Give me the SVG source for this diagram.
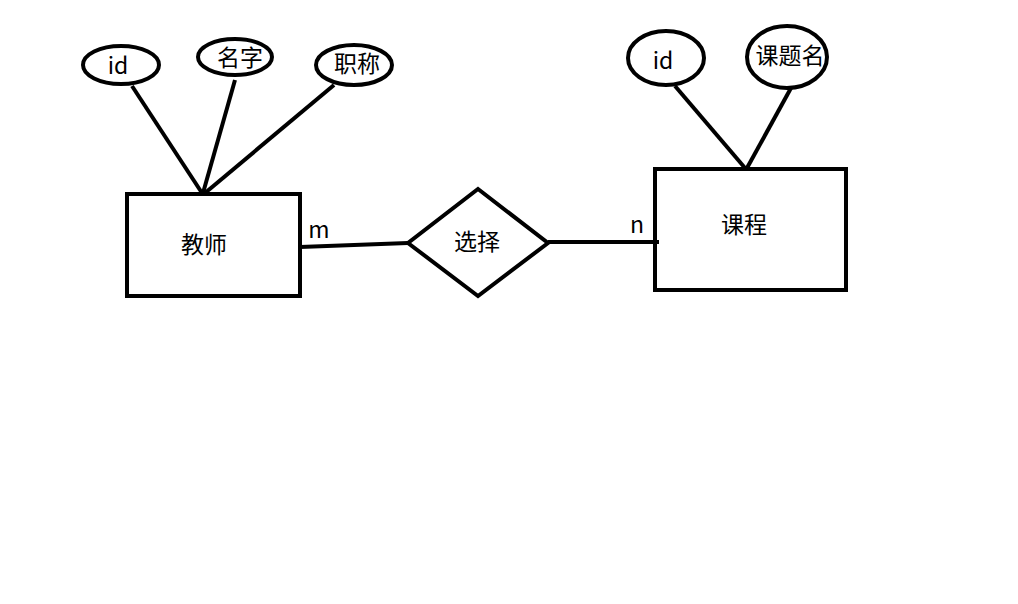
<svg xmlns="http://www.w3.org/2000/svg" width="1018" height="604" viewBox="0 0 1018 604">
<style>
.s{fill:none;stroke:#000;stroke-width:4}
.e{fill:#fff;stroke:#000;stroke-width:4}
.t{font-family:"Microsoft YaHei","Noto Sans CJK SC","Noto Sans",sans-serif;font-size:23px;fill:#000;text-anchor:middle;dominant-baseline:central}
</style>
<rect width="1018" height="604" fill="#fff"/>
<g id="connectors">
<line class="s" x1="132" y1="86" x2="202" y2="193"/>
<line class="s" x1="235" y1="80" x2="203" y2="193"/>
<line class="s" x1="334" y1="85" x2="205" y2="193"/>
<line class="s" x1="300" y1="247" x2="408" y2="243"/>
<line class="s" x1="548" y1="242" x2="659" y2="242"/>
<line class="s" x1="675" y1="86" x2="745" y2="168"/>
<line class="s" x1="791" y1="88" x2="747" y2="168"/>
<text class="t" x="319" y="228">m</text>
<text class="t" x="637" y="223">n</text>
</g>
<g id="teacher">
<rect class="s" x="127" y="194" width="173" height="102"/>
<text class="t" x="204" y="243">教师</text>
</g>
<g id="teacher-id">
<ellipse class="e" cx="121" cy="65" rx="38" ry="19"/>
<text class="t" x="118" y="64">id</text>
</g>
<g id="teacher-name">
<ellipse class="e" cx="235" cy="57" rx="37" ry="18"/>
<text class="t" x="240" y="56">名字</text>
</g>
<g id="teacher-title">
<ellipse class="e" cx="354" cy="65" rx="38" ry="20"/>
<text class="t" x="357" y="62">职称</text>
</g>
<g id="select">
<polygon class="s" points="478,189 548,243 478,296 408,243"/>
<text class="t" x="477" y="240">选择</text>
</g>
<g id="course">
<rect class="s" x="655" y="169" width="191" height="121"/>
<text class="t" x="744" y="223">课程</text>
</g>
<g id="course-id">
<ellipse class="e" cx="666" cy="58" rx="38" ry="27"/>
<text class="t" x="663" y="59">id</text>
</g>
<g id="course-topic">
<ellipse class="e" cx="787" cy="57" rx="40" ry="31"/>
<text class="t" x="790" y="54">课题名</text>
</g>
</svg>
